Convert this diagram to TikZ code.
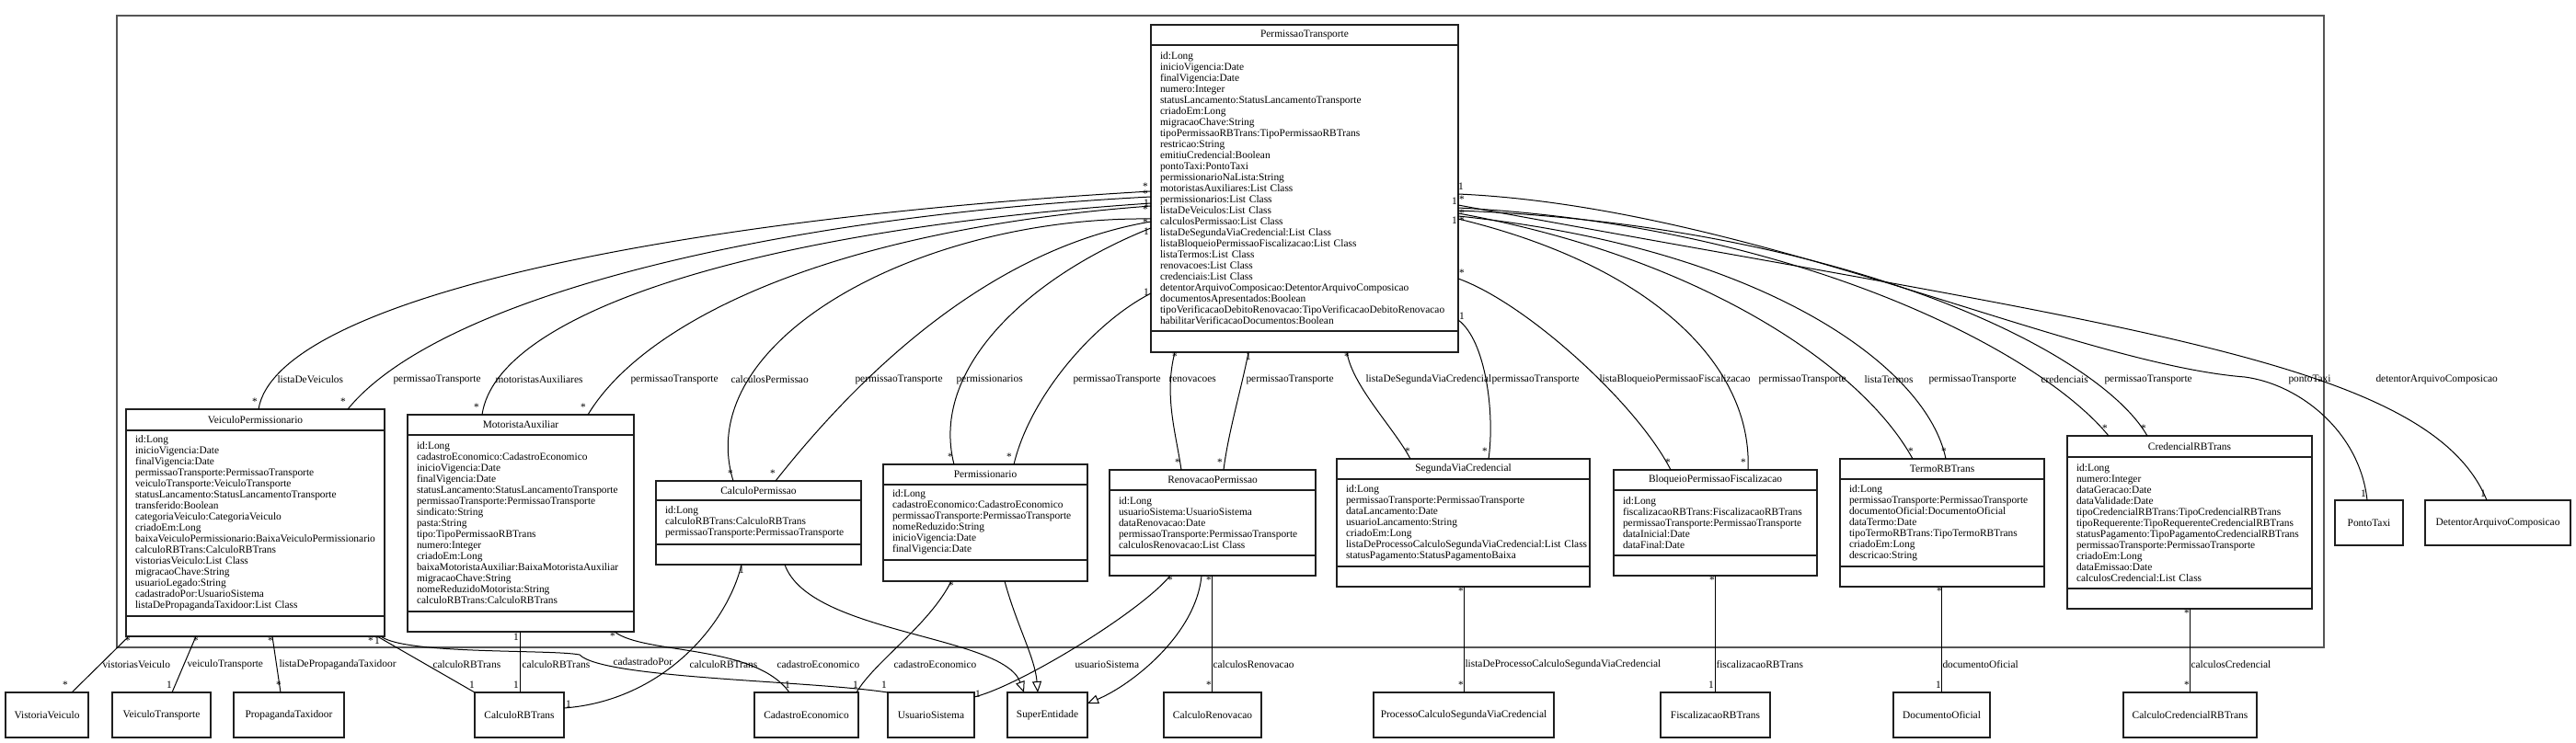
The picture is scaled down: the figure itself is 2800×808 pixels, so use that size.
\documentclass[tikz,border=0pt]{standalone}
\usepackage{fontspec}
\setmainfont{Liberation Serif}
\usetikzlibrary{arrows.meta,positioning,calc}
\definecolor{frameline}{HTML}{555555}
\definecolor{boxline}{HTML}{1F1F1F}
\newcommand{\umlfont}{\fontsize{11.4}{12}\selectfont\hyphenpenalty=10000\exhyphenpenalty=10000}
\tikzset{
  clshead/.style={draw=boxline, line width=1.3pt, outer sep=0pt, inner sep=0pt,
    minimum height=22pt, anchor=north west, font=\umlfont},
  clsattr/.style={draw=boxline, line width=1.3pt, outer sep=0pt, inner xsep=10pt,
    inner ysep=0pt, align=left, font=\umlfont},
  clsops/.style={draw=boxline, line width=1.3pt, outer sep=0pt, inner sep=0pt,
    minimum height=22pt},
  refbox/.style={draw=boxline, line width=1.3pt, outer sep=0pt, inner sep=0pt,
    minimum height=49pt, anchor=north west, font=\umlfont},
  pkgframe/.style={draw=frameline, line width=2.2pt, anchor=north west, inner sep=0pt},
  assoc/.style={draw=black, line width=1pt},
  inherit/.style={draw=black, line width=1pt, -{Triangle[open, length=12pt, width=10pt]}},
  role/.style={font=\umlfont, inner sep=0pt, anchor=west},
  mult/.style={font=\umlfont, inner sep=0pt}
}
\begin{document}
\begin{tikzpicture}[x=1pt, y=-1pt]
\useasboundingbox (0,0) rectangle (2800,808);
\node[pkgframe, minimum width=2399pt, minimum height=687pt] (pkg) at (126,16) {};

\node[clshead, minimum width=334pt] (pt) at (1251,27) {PermissaoTransporte};
\node[clsattr, minimum width=334pt, text width=314pt, minimum height=311pt, below=0pt of pt] (pt-a)
  {id:Long\\inicioVigencia:Date\\finalVigencia:Date\\numero:Integer\\statusLancamento:StatusLancamentoTransporte\\criadoEm:Long\\migracaoChave:String\\tipoPermissaoRBTrans:TipoPermissaoRBTrans\\restricao:String\\emitiuCredencial:Boolean\\pontoTaxi:PontoTaxi\\permissionarioNaLista:String\\motoristasAuxiliares:List~Class\\permissionarios:List~Class\\listaDeVeiculos:List~Class\\calculosPermissao:List~Class\\listaDeSegundaViaCredencial:List~Class\\listaBloqueioPermissaoFiscalizacao:List~Class\\listaTermos:List~Class\\renovacoes:List~Class\\credenciais:List~Class\\detentorArquivoComposicao:DetentorArquivoComposicao\\documentosApresentados:Boolean\\tipoVerificacaoDebitoRenovacao:TipoVerificacaoDebitoRenovacao\\habilitarVerificacaoDocumentos:Boolean};
\node[clsops, minimum width=334pt, minimum height=23pt, below=0pt of pt-a] (pt-o) {};

\node[clshead, minimum width=281pt, minimum height=23pt] (vp) at (137,445) {VeiculoPermissionario};
\node[clsattr, minimum width=281pt, text width=261pt, minimum height=202pt, below=0pt of vp] (vp-a)
  {id:Long\\inicioVigencia:Date\\finalVigencia:Date\\permissaoTransporte:PermissaoTransporte\\veiculoTransporte:VeiculoTransporte\\statusLancamento:StatusLancamentoTransporte\\transferido:Boolean\\categoriaVeiculo:CategoriaVeiculo\\criadoEm:Long\\baixaVeiculoPermissionario:BaixaVeiculoPermissionario\\calculoRBTrans:CalculoRBTrans\\vistoriasVeiculo:List~Class\\migracaoChave:String\\usuarioLegado:String\\cadastradoPor:UsuarioSistema\\listaDePropagandaTaxidoor:List~Class};
\node[clsops, minimum width=281pt, below=0pt of vp-a] (vp-o) {};

\node[clshead, minimum width=246pt] (ma) at (443,451) {MotoristaAuxiliar};
\node[clsattr, minimum width=246pt, text width=226pt, minimum height=192pt, below=0pt of ma] (ma-a)
  {id:Long\\cadastroEconomico:CadastroEconomico\\inicioVigencia:Date\\finalVigencia:Date\\statusLancamento:StatusLancamentoTransporte\\permissaoTransporte:PermissaoTransporte\\sindicato:String\\pasta:String\\tipo:TipoPermissaoRBTrans\\numero:Integer\\criadoEm:Long\\baixaMotoristaAuxiliar:BaixaMotoristaAuxiliar\\migracaoChave:String\\nomeReduzidoMotorista:String\\calculoRBTrans:CalculoRBTrans};
\node[clsops, minimum width=246pt, below=0pt of ma-a] (ma-o) {};

\node[clshead, minimum width=223pt, minimum height=21pt] (cp) at (713,523) {CalculoPermissao};
\node[clsattr, minimum width=223pt, text width=203pt, minimum height=48pt, below=0pt of cp] (cp-a)
  {id:Long\\calculoRBTrans:CalculoRBTrans\\permissaoTransporte:PermissaoTransporte};
\node[clsops, minimum width=223pt, below=0pt of cp-a] (cp-o) {};

\node[clshead, minimum width=222pt] (perm) at (960,505) {Permissionario};
\node[clsattr, minimum width=222pt, text width=202pt, minimum height=82pt, below=0pt of perm] (perm-a)
  {id:Long\\cadastroEconomico:CadastroEconomico\\permissaoTransporte:PermissaoTransporte\\nomeReduzido:String\\inicioVigencia:Date\\finalVigencia:Date};
\node[clsops, minimum width=222pt, minimum height=23pt, below=0pt of perm-a] (perm-o) {};

\node[clshead, minimum width=224pt] (rp) at (1206,511) {RenovacaoPermissao};
\node[clsattr, minimum width=224pt, text width=204pt, minimum height=71pt, below=0pt of rp] (rp-a)
  {id:Long\\usuarioSistema:UsuarioSistema\\dataRenovacao:Date\\permissaoTransporte:PermissaoTransporte\\calculosRenovacao:List~Class};
\node[clsops, minimum width=224pt, below=0pt of rp-a] (rp-o) {};

\node[clshead, minimum width=275pt] (svc) at (1453,499) {SegundaViaCredencial};
\node[clsattr, minimum width=275pt, text width=255pt, minimum height=95pt, below=0pt of svc] (svc-a)
  {id:Long\\permissaoTransporte:PermissaoTransporte\\dataLancamento:Date\\usuarioLancamento:String\\criadoEm:Long\\listaDeProcessoCalculoSegundaViaCredencial:List~Class\\statusPagamento:StatusPagamentoBaixa};
\node[clsops, minimum width=275pt, below=0pt of svc-a] (svc-o) {};

\node[clshead, minimum width=221pt] (bpf) at (1754,511) {BloqueioPermissaoFiscalizacao};
\node[clsattr, minimum width=221pt, text width=201pt, minimum height=71pt, below=0pt of bpf] (bpf-a)
  {id:Long\\fiscalizacaoRBTrans:FiscalizacaoRBTrans\\permissaoTransporte:PermissaoTransporte\\dataInicial:Date\\dataFinal:Date};
\node[clsops, minimum width=221pt, below=0pt of bpf-a] (bpf-o) {};

\node[clshead, minimum width=222pt] (termo) at (2000,499) {TermoRBTrans};
\node[clsattr, minimum width=222pt, text width=202pt, minimum height=95pt, below=0pt of termo] (termo-a)
  {id:Long\\permissaoTransporte:PermissaoTransporte\\documentoOficial:DocumentoOficial\\dataTermo:Date\\tipoTermoRBTrans:TipoTermoRBTrans\\criadoEm:Long\\descricao:String};
\node[clsops, minimum width=222pt, below=0pt of termo-a] (termo-o) {};

\node[clshead, minimum width=266pt, minimum height=23pt] (cred) at (2247,474) {CredencialRBTrans};
\node[clsattr, minimum width=266pt, text width=246pt, minimum height=143pt, below=0pt of cred] (cred-a)
  {id:Long\\numero:Integer\\dataGeracao:Date\\dataValidade:Date\\tipoCredencialRBTrans:TipoCredencialRBTrans\\tipoRequerente:TipoRequerenteCredencialRBTrans\\statusPagamento:TipoPagamentoCredencialRBTrans\\permissaoTransporte:PermissaoTransporte\\criadoEm:Long\\dataEmissao:Date\\calculosCredencial:List~Class};
\node[clsops, minimum width=266pt, below=0pt of cred-a] (cred-o) {};

\node[refbox, minimum width=74pt] (ptx) at (2538,544) {PontoTaxi};
\node[refbox, minimum width=158pt] (dac) at (2636,544) {DetentorArquivoComposicao};
\node[refbox, minimum width=90pt] (vv) at (6,753) {VistoriaVeiculo};
\node[refbox, minimum width=107pt] (vt) at (122,753) {VeiculoTransporte};
\node[refbox, minimum width=120pt] (ptd) at (254,753) {PropagandaTaxidoor};
\node[refbox, minimum width=97pt] (crb) at (516,753) {CalculoRBTrans};
\node[refbox, minimum width=113pt] (ce) at (820,753) {CadastroEconomico};
\node[refbox, minimum width=94pt] (us) at (965,753) {UsuarioSistema};
\node[refbox, minimum width=87pt] (se) at (1095,753) {SuperEntidade};
\node[refbox, minimum width=106pt] (cr) at (1265,753) {CalculoRenovacao};
\node[refbox, minimum width=196pt] (pcs) at (1493,753) {ProcessoCalculoSegundaViaCredencial};
\node[refbox, minimum width=119pt] (frb) at (1805,753) {FiscalizacaoRBTrans};
\node[refbox, minimum width=105pt] (doc) at (2058,753) {DocumentoOficial};
\node[refbox, minimum width=145pt] (ccr) at (2308,753) {CalculoCredencialRBTrans};

\draw[assoc] ($(pt-a.north west)+(0,159)$) .. controls (700,240) and (300,330) .. ($(vp.north west)+(144,0)$)
  node[role] (r-vp1) at (301,413) {listaDeVeiculos}
  node[mult] (m-vp1s) at (1245,203) {*} node[mult] (m-vp1e) at (277,437) {*};
\draw[assoc] ($(pt-a.north west)+(0,165)$) .. controls (850,235) and (480,320) .. ($(vp.north west)+(241,0)$)
  node[role] (r-vp2) at (427,413) {permissaoTransporte}
  node[mult] (m-vp2s) at (1245,211) {*} node[mult] (m-vp2e) at (373,437) {*};
\draw[assoc] ($(pt-a.north west)+(0,172)$) .. controls (820,250) and (540,340) .. ($(ma.north west)+(81,0)$)
  node[role] (r-ma1) at (538,413) {motoristasAuxiliares}
  node[mult] (m-ma1s) at (1246,221) {1} node[mult] (m-ma1e) at (518,443) {*};
\draw[assoc] ($(pt-a.north west)+(0,175)$) .. controls (900,250) and (700,350) .. ($(ma.north west)+(196,0)$)
  node[role] (r-ma2) at (685,413) {permissaoTransporte}
  node[mult] (m-ma2s) at (1245,228) {*} node[mult] (m-ma2e) at (634,443) {*};
\draw[assoc] ($(pt-a.north west)+(0,189)$) .. controls (1000,235) and (750,370) .. ($(cp.north west)+(84,0)$)
  node[role] (r-cp1) at (794,413) {calculosPermissao}
  node[mult] (m-cp1s) at (1245,242) {*} node[mult] (m-cp1e) at (794,515) {*};
\draw[assoc] ($(pt-a.north west)+(0,192)$) .. controls (1080,270) and (940,400) .. ($(cp.north west)+(130,0)$)
  node[role] (r-cp2) at (929,413) {permissaoTransporte}
  node[mult] (m-cp2s) at (1246,252) {1} node[mult] (m-cp2e) at (840,515) {*};
\draw[assoc] ($(pt-a.north west)+(0,199)$) .. controls (1120,300) and (1010,400) .. ($(perm.north west)+(77,0)$)
  node[role] (r-pe1) at (1039,413) {permissionarios}
  node[mult] (m-pe1e) at (1033,497) {*};
\draw[assoc] ($(pt-a.north west)+(0,270)$) .. controls (1190,350) and (1120,430) .. ($(perm.north west)+(142,0)$)
  node[role] (r-pe2) at (1166,413) {permissaoTransporte}
  node[mult] (m-pe2s) at (1246,318) {1} node[mult] (m-pe2e) at (1097,497) {*};

\draw[assoc] ($(pt-o.south west)+(26,0)$) .. controls (1265,430) and (1278,470) .. ($(rp.north west)+(78,0)$)
  node[role] (r-rp1) at (1270,413) {renovacoes}
  node[mult] (m-rp1s) at (1277,388) {*} node[mult] (m-rp1e) at (1280,503) {*};
\draw[assoc] ($(pt-o.south west)+(106,0)$) .. controls (1350,420) and (1335,470) .. ($(rp.north west)+(124,0)$)
  node[role] (r-rp2) at (1354,413) {permissaoTransporte}
  node[mult] (m-rp2s) at (1357,388) {1} node[mult] (m-rp2e) at (1326,503) {*};
\draw[assoc] ($(pt-o.south west)+(213,0)$) .. controls (1470,420) and (1515,465) .. ($(svc.north west)+(80,0)$)
  node[role] (r-sv1) at (1484,413) {listaDeSegundaViaCredencial}
  node[mult] (m-sv1s) at (1464,388) {*} node[mult] (m-sv1e) at (1530,491) {*};
\draw[assoc] ($(pt-a.north east)+(0,299)$) .. controls (1615,370) and (1625,450) .. ($(svc.north west)+(165,0)$)
  node[role] (r-sv2) at (1621,413) {permissaoTransporte}
  node[mult] (m-sv2s) at (1589,344) {1} node[mult] (m-sv2e) at (1614,491) {*};
\draw[assoc] ($(pt-a.north east)+(0,254)$) .. controls (1660,330) and (1780,440) .. ($(bpf.north west)+(62,0)$)
  node[role] (r-bf1) at (1738,413) {listaBloqueioPermissaoFiscalizacao}
  node[mult] (m-bf1s) at (1589,297) {*} node[mult] (m-bf1e) at (1813,503) {*};
\draw[assoc] ($(pt-a.north east)+(0,189)$) .. controls (1800,290) and (1905,400) .. ($(bpf.north west)+(146,0)$)
  node[role] (r-bf2) at (1911,413) {permissaoTransporte}
  node[mult] (m-bf2s) at (1589,240) {*} node[mult] (m-bf2e) at (1895,503) {*};
\draw[assoc] ($(pt-a.north east)+(0,183)$) .. controls (1850,280) and (2025,400) .. ($(termo.north west)+(79,0)$)
  node[role] (r-te1) at (2026,413) {listaTermos}
  node[mult] (m-te1s) at (1581,240) {1} node[mult] (m-te1e) at (2077,491) {*};
\draw[assoc] ($(pt-a.north east)+(0,186)$) .. controls (1920,270) and (2095,400) .. ($(termo.north west)+(115,0)$)
  node[role] (r-te2) at (2096,413) {permissaoTransporte}
  node[mult] (m-te2s) at (1589,232) {*} node[mult] (m-te2e) at (2113,491) {*};
\draw[assoc] ($(pt-a.north east)+(0,177)$) .. controls (1950,245) and (2215,380) .. ($(cred.north west)+(45,0)$)
  node[role] (r-cr1) at (2218,413) {credenciais}
  node[mult] (m-cr1s) at (1589,217) {*} node[mult] (m-cr1e) at (2288,466) {*};
\draw[assoc] ($(pt-a.north east)+(0,180)$) .. controls (2000,245) and (2280,380) .. ($(cred.north west)+(87,0)$)
  node[role] (r-cr2) at (2287,413) {permissaoTransporte}
  node[mult] (m-cr2s) at (1581,219) {1} node[mult] (m-cr2e) at (2330,466) {*};
\draw[assoc] ($(pt-a.north east)+(0,162)$) .. controls (1900,225) and (2250,395) .. (2440,410)
  .. controls (2500,418) and (2565,470) .. ($(ptx.north west)+(35,0)$)
  node[role] (r-ptx) at (2487,413) {pontoTaxi}
  node[mult] (m-ptxs) at (1588,203) {1} node[mult] (m-ptxe) at (2569,537) {1};
\draw[assoc] ($(pt-a.north east)+(0,174)$) .. controls (2300,355) and (2640,390) .. ($(dac.north west)+(67,0)$)
  node[role] (r-dac) at (2582,413) {detentorArquivoComposicao}
  node[mult] (m-dace) at (2699,537) {1};

\draw[assoc] ($(vp-o.south west)+(3,0)$) -- ($(vv.north west)+(72,0)$)
  node[role] (r-vv) at (111,723) {vistoriasVeiculo}
  node[mult] (m-vvs) at (139,697) {*} node[mult] (m-vve) at (71,745) {*};
\draw[assoc] ($(vp-o.south west)+(76,0)$) -- ($(vt.north west)+(65,0)$)
  node[role] (r-vt) at (203,723) {veiculoTransporte}
  node[mult] (m-vts) at (213,697) {*} node[mult] (m-vte) at (184,745) {1};
\draw[assoc] ($(vp-o.south west)+(159,0)$) -- ($(ptd.north west)+(51,0)$)
  node[role] (r-ptd) at (303,723) {listaDePropagandaTaxidoor}
  node[mult] (m-ptds) at (294,697) {*} node[mult] (m-ptde) at (303,745) {*};
\draw[assoc] ($(vp-o.south west)+(273,0)$) -- ($(crb.north west)+(0,0)$)
  node[role] (r-crb1) at (470,723) {calculoRBTrans}
  node[mult] (m-crb1s) at (403,697) {*} node[mult] (m-crb1e) at (513,745) {1};
\draw[assoc] ($(vp-o.south west)+(277,0)$) .. controls (440,712) and (600,706) .. (630,712)
  .. controls (655,738) and (880,740) .. (us.north west)
  node[role] (r-us1) at (666,720) {cadastradoPor}
  node[mult] (m-us1s) at (410,697) {1} node[mult] (m-us1e) at (961,745) {1};
\draw[assoc] ($(ma-o.south west)+(122,0)$) -- ($(crb.north west)+(49,0)$)
  node[role] (r-crb2) at (567,723) {calculoRBTrans}
  node[mult] (m-crb2s) at (561,693) {1} node[mult] (m-crb2e) at (561,745) {1};
\draw[assoc] ($(ma-o.south west)+(225,0)$) .. controls (700,712) and (820,700) .. ($(ce.north west)+(38,0)$)
  node[role] (r-ce1) at (844,723) {cadastroEconomico}
  node[mult] (m-ce1s) at (666,692) {*} node[mult] (m-ce1e) at (856,745) {1};
\draw[assoc] ($(cp-o.south west)+(93,0)$) .. controls (790,680) and (720,762) .. ($(crb.north east)+(0,17)$)
  node[role] (r-crb3) at (749,723) {calculoRBTrans}
  node[mult] (m-crb3s) at (806,620) {1} node[mult] (m-crb3e) at (618,766) {1};
\draw[inherit] ($(cp-o.south west)+(140,0)$) .. controls (880,690) and (1090,690) .. ($(se.north west)+(18,0)$);
\draw[assoc] ($(perm-o.south west)+(74,0)$) .. controls (1010,680) and (950,720) .. ($(ce.north west)+(111,0)$)
  node[role] (r-ce2) at (971,723) {cadastroEconomico}
  node[mult] (m-ce2s) at (1034,637) {*} node[mult] (m-ce2e) at (930,745) {1};
\draw[inherit] ($(perm-o.south west)+(132,0)$) .. controls (1105,680) and (1125,715) .. ($(se.north west)+(33,0)$);
\draw[assoc] ($(rp-o.south west)+(66,0)$) .. controls (1240,665) and (1110,745) .. ($(us.north east)+(0,5)$)
  node[role] (r-us2) at (1168,723) {usuarioSistema}
  node[mult] (m-us2s) at (1272,631) {*} node[mult] (m-us2e) at (1063,755) {1};
\draw[inherit] ($(rp-o.south west)+(100,0)$) .. controls (1300,690) and (1230,745) .. ($(se.north east)+(0,12)$);
\draw[assoc] ($(rp-o.south west)+(111,0)$) -- ($(cr.north west)+(52,0)$)
  node[role] (r-cr) at (1318,723) {calculosRenovacao}
  node[mult] (m-crs) at (1314,631) {*} node[mult] (m-cre) at (1314,745) {*};
\draw[assoc] ($(svc-o.south west)+(138,0)$) -- ($(pcs.north west)+(98,0)$)
  node[role] (r-pcs) at (1592,723) {listaDeProcessoCalculoSegundaViaCredencial}
  node[mult] (m-pcss) at (1588,643) {*} node[mult] (m-pcse) at (1588,745) {*};
\draw[assoc] ($(bpf-o.south west)+(110,0)$) -- ($(frb.north west)+(59,0)$)
  node[role] (r-frb) at (1865,723) {fiscalizacaoRBTrans}
  node[mult] (m-frbs) at (1861,631) {*} node[mult] (m-frbe) at (1860,745) {1};
\draw[assoc] ($(termo-o.south west)+(110,0)$) -- ($(doc.north west)+(52,0)$)
  node[role] (r-doc) at (2111,723) {documentoOficial}
  node[mult] (m-docs) at (2108,643) {*} node[mult] (m-doce) at (2107,745) {1};
\draw[assoc] ($(cred-o.south west)+(133,0)$) -- ($(ccr.north west)+(72,0)$)
  node[role] (r-ccr) at (2381,723) {calculosCredencial}
  node[mult] (m-ccrs) at (2377,667) {*} node[mult] (m-ccre) at (2377,745) {*};
\end{tikzpicture}
\end{document}
